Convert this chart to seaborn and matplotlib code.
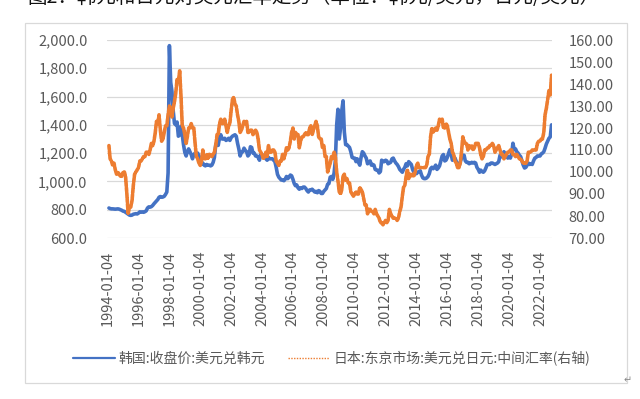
import numpy as np
import pandas as pd
import matplotlib
matplotlib.use("Agg")
import matplotlib.pyplot as plt
from matplotlib.lines import Line2D
from matplotlib.patches import Rectangle
from matplotlib.ticker import FuncFormatter, MultipleLocator
import seaborn as sns

# monthly values, Jan 1994 .. Sep 2022
krw = [
    812, 808, 806, 806, 805, 804, 805, 806, 804, 800, 796, 790,   # 1994
    788, 782, 775, 768, 762, 760, 762, 768, 770, 772, 770, 776,   # 1995
    785, 782, 785, 782, 786, 792, 812, 820, 818, 822, 830, 842,   # 1996
    852, 862, 872, 888, 893, 888, 890, 895, 908, 925, 1060, 1960, # 1997
    1700, 1640, 1500, 1410, 1400, 1420, 1320, 1330, 1390, 1330, 1260, 1205,  # 1998
    1180, 1210, 1230, 1210, 1190, 1160, 1190, 1200, 1200, 1200, 1180, 1140,  # 1999
    1125, 1130, 1115, 1110, 1120, 1115, 1115, 1110, 1115, 1135, 1170, 1260,  # 2000
    1280, 1255, 1310, 1330, 1300, 1300, 1305, 1290, 1295, 1305, 1290, 1310,  # 2001
    1320, 1325, 1330, 1320, 1270, 1230, 1180, 1205, 1210, 1235, 1220, 1210,  # 2002
    1180, 1190, 1245, 1240, 1200, 1200, 1180, 1180, 1170, 1150, 1190, 1190,  # 2003
    1180, 1170, 1160, 1150, 1170, 1160, 1160, 1160, 1150, 1140, 1100, 1050,  # 2004
    1030, 1020, 1010, 1010, 1005, 1015, 1035, 1020, 1030, 1045, 1040, 1015,  # 2005
    985, 970, 975, 955, 945, 955, 950, 960, 960, 950, 935, 925,              # 2006
    940, 940, 945, 935, 925, 930, 920, 935, 930, 915, 915, 930,              # 2007
    940, 950, 980, 985, 1030, 1035, 1015, 1060, 1150, 1400, 1510, 1300,      # 2008
    1380, 1500, 1570, 1350, 1260, 1260, 1250, 1240, 1210, 1170, 1165, 1165,  # 2009
    1140, 1160, 1135, 1115, 1170, 1210, 1200, 1180, 1165, 1125, 1135, 1145,  # 2010
    1115, 1120, 1115, 1085, 1080, 1080, 1060, 1070, 1150, 1140, 1140, 1150,  # 2011
    1145, 1125, 1130, 1135, 1160, 1165, 1145, 1130, 1120, 1105, 1085, 1075,  # 2012
    1065, 1085, 1100, 1125, 1110, 1140, 1130, 1120, 1085, 1065, 1060, 1055,  # 2013
    1065, 1070, 1075, 1045, 1025, 1020, 1020, 1025, 1035, 1055, 1090, 1100,  # 2014
    1090, 1100, 1115, 1085, 1095, 1110, 1145, 1180, 1190, 1145, 1150, 1170,  # 2015
    1200, 1225, 1190, 1150, 1170, 1165, 1140, 1115, 1105, 1135, 1165, 1185,  # 2016
    1185, 1145, 1135, 1135, 1125, 1130, 1135, 1130, 1135, 1130, 1100, 1085,  # 2017
    1065, 1080, 1070, 1065, 1075, 1095, 1120, 1120, 1120, 1130, 1130, 1125,  # 2018
    1120, 1125, 1130, 1140, 1185, 1175, 1175, 1210, 1195, 1185, 1165, 1175,  # 2019
    1165, 1195, 1270, 1225, 1230, 1210, 1200, 1185, 1175, 1145, 1115, 1095,  # 2020
    1100, 1115, 1130, 1120, 1125, 1120, 1145, 1165, 1170, 1180, 1180, 1180,  # 2021
    1195, 1200, 1210, 1235, 1265, 1285, 1305, 1315, 1400,                    # 2022
]

jpy = [
    112, 106, 105, 103, 104, 101, 99, 100, 99, 98, 98, 100,       # 1994
    100, 98, 90, 81, 84, 84, 87, 94, 99, 100, 101, 102,           # 1995
    105, 105, 106, 107, 107, 109, 109, 108, 110, 113, 112, 114,   # 1996
    118, 123, 122, 126, 119, 114, 115, 118, 121, 121, 126, 130,   # 1997
    129, 125, 129, 132, 136, 142, 141, 146, 135, 121, 120, 117,   # 1998
    113, 116, 120, 120, 122, 120, 120, 113, 107, 106, 104, 103,   # 1999
    105, 110, 106, 106, 108, 106, 108, 108, 107, 108, 109, 112,   # 2000
    117, 117, 122, 124, 122, 122, 124, 121, 118, 121, 122, 128,   # 2001
    133, 134, 131, 130, 126, 123, 118, 119, 121, 123, 122, 123,   # 2002
    118, 118, 119, 119, 117, 118, 119, 118, 115, 110, 109, 108,   # 2003
    106, 107, 109, 107, 112, 109, 109, 110, 110, 109, 105, 104,   # 2004
    103, 105, 105, 108, 106, 108, 111, 110, 111, 114, 118, 120,   # 2005
    115, 118, 117, 117, 111, 114, 116, 116, 117, 118, 117, 117,   # 2006
    120, 121, 117, 119, 121, 123, 121, 116, 115, 115, 111, 112,   # 2007
    107, 107, 100, 102, 104, 107, 106, 109, 107, 100, 96, 91,     # 2008
    90, 92, 98, 99, 96, 97, 95, 95, 91, 90, 89, 90,               # 2009
    91, 90, 90, 93, 92, 91, 88, 85, 85, 81, 83, 83,               # 2010
    82, 82, 81, 83, 81, 80, 79, 77, 77, 76, 77, 78,               # 2011
    77, 78, 83, 81, 80, 79, 79, 79, 78, 79, 82, 84,               # 2012
    89, 93, 94, 98, 101, 97, 99, 98, 99, 98, 100, 103,            # 2013
    104, 102, 102, 102, 102, 102, 102, 103, 107, 108, 116, 120,   # 2014
    118, 119, 120, 119, 121, 124, 123, 124, 120, 120, 122, 121,   # 2015
    118, 115, 113, 109, 108, 105, 104, 102, 102, 104, 109, 116,   # 2016
    114, 113, 113, 110, 112, 111, 112, 110, 111, 113, 113, 113,   # 2017
    111, 108, 106, 107, 110, 110, 111, 111, 112, 112, 113, 112,   # 2018
    109, 110, 111, 112, 110, 108, 108, 106, 107, 108, 109, 109,   # 2019
    110, 110, 108, 108, 107, 108, 107, 106, 106, 105, 104, 104,   # 2020
    104, 105, 109, 109, 109, 110, 110, 110, 110, 113, 114, 114,   # 2021
    115, 115, 118, 126, 129, 133, 137, 135, 144,                  # 2022
]

dates = pd.date_range("1994-01-04", periods=len(krw), freq="MS") + pd.Timedelta(days=3)
tick_years = list(range(1994, 2023, 2))
tick_labels = [f"{y}-01-04" for y in tick_years]

title = "图2：韩元和日元对美元汇率走势（单位：韩元/美元，日元/美元）"
krw_name = "韩国:收盘价:美元兑韩元"
jpy_name = "日本:东京市场:美元兑日元:中间汇率(右轴)"

df = pd.DataFrame({"date": dates, "krw": krw, "jpy": jpy})

sns.set_style("white")
plt.rcParams["font.family"] = ["Noto Sans CJK SC", "DejaVu Sans"]

blue = "#4472C4"
orange = "#ED7D31"
grey = "#595959"

fig = plt.figure(figsize=(6.4, 3.99), dpi=100)
ax = fig.add_axes([107 / 640, 1 - 238 / 399, (552 - 107) / 640, (238 - 40) / 399])

# chart-area border like the Excel frame
fig.patches.append(Rectangle((25 / 640, 1 - 383 / 399), (627 - 25) / 640, (383 - 23) / 399,
                             transform=fig.transFigure, fill=False, edgecolor="#D9D9D9", lw=0.9))

sns.lineplot(data=df, x="date", y="krw", ax=ax, color=blue, lw=2.6, legend=False)
ax.set_ylim(600, 2000)
ax.yaxis.set_major_locator(MultipleLocator(200))
ax.yaxis.set_major_formatter(FuncFormatter(lambda v, p: f"{v:,.1f}"))
ax.grid(axis="y", color="#D9D9D9", lw=0.9)
ax.set_xlim(pd.Timestamp("1993-12-20"), pd.Timestamp("2022-10-15"))
ax.set_xticks([pd.Timestamp(t) for t in tick_labels])
ax.set_xticklabels(tick_labels, rotation=90)
ax.set_xlabel("")
ax.set_ylabel("")
for s in ax.spines.values():
    s.set_visible(False)
ax.tick_params(axis="y", length=0, labelsize=10.5, colors=grey, pad=14)
ax.tick_params(axis="x", length=0, labelsize=10.5, colors=grey, pad=9)

ax2 = ax.twinx()
sns.lineplot(data=df, x="date", y="jpy", ax=ax2, color=orange, lw=2.6, legend=False,
             linestyle=(0, (1, 0.5)))
ax2.lines[0].set_dash_capstyle("round")
ax2.set_ylim(70, 160)
ax2.yaxis.set_major_locator(MultipleLocator(10))
ax2.yaxis.set_major_formatter(FuncFormatter(lambda v, p: f"{v:.2f}"))
ax2.set_ylabel("")
for s in ax2.spines.values():
    s.set_visible(False)
ax2.tick_params(axis="y", length=0, labelsize=10.5, colors=grey, pad=12)

handles = [Line2D([], [], color=blue, lw=1.6),
           Line2D([], [], color=orange, lw=1.0, linestyle=(0, (1, 1)))]
fig.legend(handles, [krw_name, jpy_name], loc="center", bbox_to_anchor=(0.518, 1 - 358 / 399),
           ncol=2, frameon=False, fontsize=10, handlelength=3.0, columnspacing=1.6,
           labelcolor=grey, handletextpad=0.3)

fig.text(27 / 640, 1 - 8 / 399, title, fontsize=14, va="bottom", ha="left", color="#111111")
fig.text(628 / 640, 1 - 380 / 399, "↵", fontsize=7, color="#888888", ha="center", va="center",
         family=["DejaVu Sans"])

fig.savefig("out.png", dpi=100)
